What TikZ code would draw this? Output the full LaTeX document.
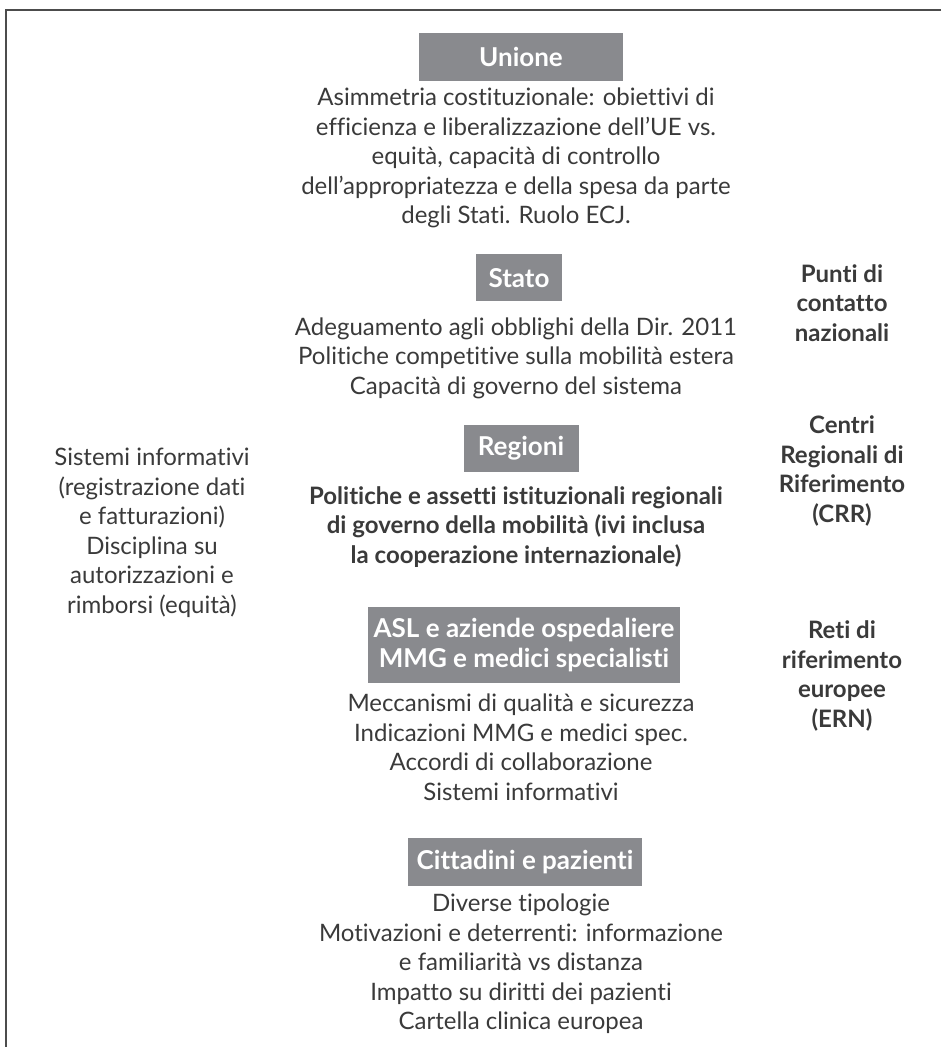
\documentclass[tikz,border=0pt]{standalone}
\usepackage{fontspec}
\setmainfont{Lato}[Ligatures={NoCommon}]
\definecolor{boxgray}{RGB}{137,138,142}
\definecolor{txtgray}{RGB}{58,58,58}
\tikzset{
  head/.style={fill=boxgray, text=white, font=\bfseries\fontsize{13}{15}\selectfont,
    inner sep=0pt, minimum height=24pt, align=center},
  body/.style={text=txtgray, font=\fontsize{12}{14.75}\selectfont, align=center, inner sep=0pt},
  side/.style={body, font=\bfseries\fontsize{12}{14.75}\selectfont}
}
\begin{document}
\begin{tikzpicture}[x=0.5pt, y=-0.5pt]
\useasboundingbox (0,0) rectangle (941,1047);
% cornice
\draw[line width=0.75pt, black!70] (941,10) -- (6,10) -- (6,1047);

% livelli
\node[head, minimum width=102pt] (unione) at (521,57) {Unione};
\node[body] (unioneTxt) at (516,158) {Asimmetria costituzionale: obiettivi di\\
  efficienza e liberalizzazione dell’UE vs.\\ equità, capacità di controllo\\
  dell’appropriatezza e della spesa da parte\\ degli Stati. Ruolo ECJ.};

\node[head, minimum width=43pt, minimum height=23.5pt] (stato) at (519,278) {Stato};
\node[body] (statoTxt) at (516,358) {Adeguamento agli obblighi della Dir. 2011\\
  Politiche competitive sulla mobilità estera\\ Capacità di governo del sistema};

\node[head, minimum width=57.5pt, minimum height=23.5pt] (regioni) at (521,448) {Regioni};
\node[side] (regioniTxt) at (516,527) {Politiche e assetti istituzionali regionali\\
  di governo della mobilità (ivi inclusa\\ la cooperazione internazionale)};

\node[head, minimum width=156pt, minimum height=38pt] (asl) at (524,645)
  {ASL e aziende ospedaliere\\ MMG e medici specialisti};
\node[body] (aslTxt) at (521,747) {Meccanismi di qualità e sicurezza\\
  Indicazioni MMG e medici spec.\\ Accordi di collaborazione\\ Sistemi informativi};

\node[head, minimum width=117pt] (cittadini) at (525,862) {Cittadini e pazienti};
\node[body] (cittadiniTxt) at (521,964) {Diverse tipologie\\
  Motivazioni e deterrenti: informazione\\ e familiarità vs distanza\\
  Impatto su diritti dei pazienti\\ Cartella clinica europea};

% colonna sinistra
\node[body] (sistemi) at (152,533) {Sistemi informativi\\ (registrazione dati\\
  e fatturazioni)\\ Disciplina su\\ autorizzazioni e\\ rimborsi (equità)};

% colonna destra
\node[side] (punti) at (842,303) {Punti di\\ contatto\\ nazionali};
\node[side] (crr) at (842,471) {Centri\\ Regionali di\\ Riferimento\\ (CRR)};
\node[side] (ern) at (842,676) {Reti di\\ riferimento\\ europee\\ (ERN)};

\end{tikzpicture}
\end{document}
